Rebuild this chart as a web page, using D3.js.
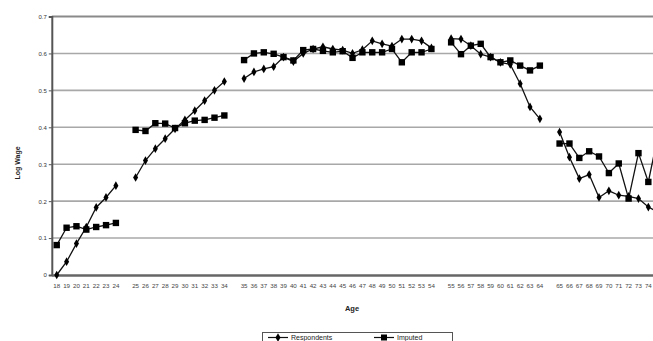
<!DOCTYPE html>
<html><head><meta charset="utf-8">
<script src="https://cdn.jsdelivr.net/npm/d3@7"></script>
<style>body{margin:0;background:#fff;}svg{display:block;font-family:"Liberation Sans",Arial,sans-serif;}</style>
</head><body>
<svg id="c" width="653" height="341"></svg>
<script>
// Age categories (blank categories separate the age brackets)
const ages = ["18","19","20","21","22","23","24","",
  "25","26","27","28","29","30","31","32","33","34","",
  "35","36","37","38","39","40","41","42","43","44","45","46","47","48","49","50","51","52","53","54","",
  "55","56","57","58","59","60","61","62","63","64","",
  "65","66","67","68","69","70","71","72","73","74","75"];
const respondents = [0.0,0.036,0.085,0.13,0.183,0.21,0.242,null,
  0.264,0.31,0.342,0.369,0.396,0.42,0.445,0.472,0.5,0.524,null,
  0.532,0.55,0.558,0.564,0.59,0.578,0.6,0.612,0.618,0.612,0.609,0.6,0.61,0.634,0.626,0.62,0.639,0.639,0.634,0.615,null,
  0.64,0.639,0.621,0.598,0.59,0.576,0.57,0.518,0.455,0.423,null,
  0.387,0.319,0.261,0.272,0.21,0.228,0.216,0.213,0.207,0.184,0.17];
const imputed = [0.081,0.128,0.132,0.123,0.13,0.135,0.141,null,
  0.393,0.39,0.411,0.41,0.398,0.411,0.418,0.42,0.426,0.432,null,
  0.582,0.6,0.603,0.599,0.59,0.581,0.609,0.612,0.607,0.603,0.606,0.588,0.603,0.603,0.603,0.612,0.576,0.603,0.603,0.612,null,
  0.63,0.598,0.621,0.626,0.59,0.576,0.581,0.567,0.554,0.567,null,
  0.356,0.356,0.317,0.335,0.321,0.276,0.302,0.207,0.33,0.252,0.38];
const yTicks = [0,0.1,0.2,0.3,0.4,0.5,0.6,0.7];
const seriesNames = ["Respondents","Imputed"];

const svg = d3.select("#c");
const pLeft = 51.8, step = 9.86, pTop = 16.5, pBottom = 275;
const idx = ages.map((a,i)=>i);
const x = d3.scaleBand().domain(idx).range([pLeft, pLeft + step*ages.length]);
const y = d3.scaleLinear().domain([0,0.7]).range([pBottom, pTop]);
const pRight = pLeft + step*ages.length;

// gridlines
svg.append("g").selectAll("line").data(yTicks.filter(t=>t>0 && t<0.7)).join("line")
  .attr("x1",pLeft).attr("x2",pRight).attr("y1",d=>y(d)).attr("y2",d=>y(d))
  .attr("stroke","#a8a8a8").attr("stroke-width",1.6);
// top frame
svg.append("line").attr("x1",pLeft).attr("x2",pRight).attr("y1",y(0.7)).attr("y2",y(0.7))
  .attr("stroke","#8a8a8a").attr("stroke-width",2.2);

// y axis
const yAxis = d3.axisLeft(y).tickValues(yTicks).tickSize(3).tickFormat(d=>d===0?"0":d3.format(".1f")(d));
const gy = svg.append("g").attr("transform",`translate(${pLeft},0)`).call(yAxis);
gy.select(".domain").attr("stroke","#555").attr("stroke-width",2);
gy.selectAll(".tick line").attr("stroke","#555");
gy.selectAll(".tick text").attr("font-size",6).attr("fill","#333").attr("x",-5);

// x axis
const xAxis = d3.axisBottom(x).tickSize(0).tickFormat(i=>ages[i]);
const gx = svg.append("g").attr("transform",`translate(0,${pBottom})`).call(xAxis);
gx.select(".domain").attr("stroke","#666").attr("stroke-width",2.6);
gx.selectAll(".tick text").attr("font-size",6.2).attr("fill","#444").attr("dy",0).attr("y",13);

// axis titles
svg.append("text").attr("x",352).attr("y",311).attr("text-anchor","middle")
  .attr("font-size",7.5).attr("font-weight","bold").attr("fill","#222").text("Age");
svg.append("text").attr("transform","translate(20,163) rotate(-90)").attr("text-anchor","middle")
  .attr("font-size",7).attr("font-weight","bold").attr("fill","#222").text("Log Wage");

// series
const cx = i => x(i) + x.bandwidth()/2;
const line = d3.line().defined(d=>d.v!==null).x(d=>cx(d.i)).y(d=>y(d.v));
const rData = respondents.map((v,i)=>({i,v}));
const iData = imputed.map((v,i)=>({i,v}));
const plot = svg.append("g");
plot.append("path").datum(rData).attr("d",line).attr("fill","none").attr("stroke","#111").attr("stroke-width",1.3);
plot.append("path").datum(iData).attr("d",line).attr("fill","none").attr("stroke","#111").attr("stroke-width",1.3);
plot.append("g").selectAll("path").data(rData.filter(d=>d.v!==null)).join("path")
  .attr("d",d3.symbol(d3.symbolDiamond,22))
  .attr("transform",d=>`translate(${cx(d.i)},${y(d.v)})`).attr("fill","#000");
plot.append("g").selectAll("rect").data(iData.filter(d=>d.v!==null)).join("rect")
  .attr("x",d=>cx(d.i)-3.2).attr("y",d=>y(d.v)-3.2).attr("width",6.4).attr("height",6.4).attr("fill","#000");

// legend
const lg = svg.append("g");
lg.append("rect").attr("x",262.5).attr("y",332.5).attr("width",190).attr("height",14)
  .attr("fill","#fff").attr("stroke","#555").attr("stroke-width",1);
const items = [{n:seriesNames[0],x:268,sym:"d"},{n:seriesNames[1],x:374,sym:"s"}];
items.forEach(it=>{
  lg.append("line").attr("x1",it.x).attr("x2",it.x+20).attr("y1",337.5).attr("y2",337.5).attr("stroke","#111").attr("stroke-width",1.2);
  if(it.sym==="d") lg.append("path").attr("d",d3.symbol(d3.symbolDiamond,22)).attr("transform",`translate(${it.x+10},337.5)`).attr("fill","#000");
  else lg.append("rect").attr("x",it.x+7).attr("y",334.5).attr("width",6).attr("height",6).attr("fill","#000");
  lg.append("text").attr("x",it.x+23).attr("y",340).attr("font-size",7).attr("fill","#222").text(it.n);
});
</script>
</body></html>
